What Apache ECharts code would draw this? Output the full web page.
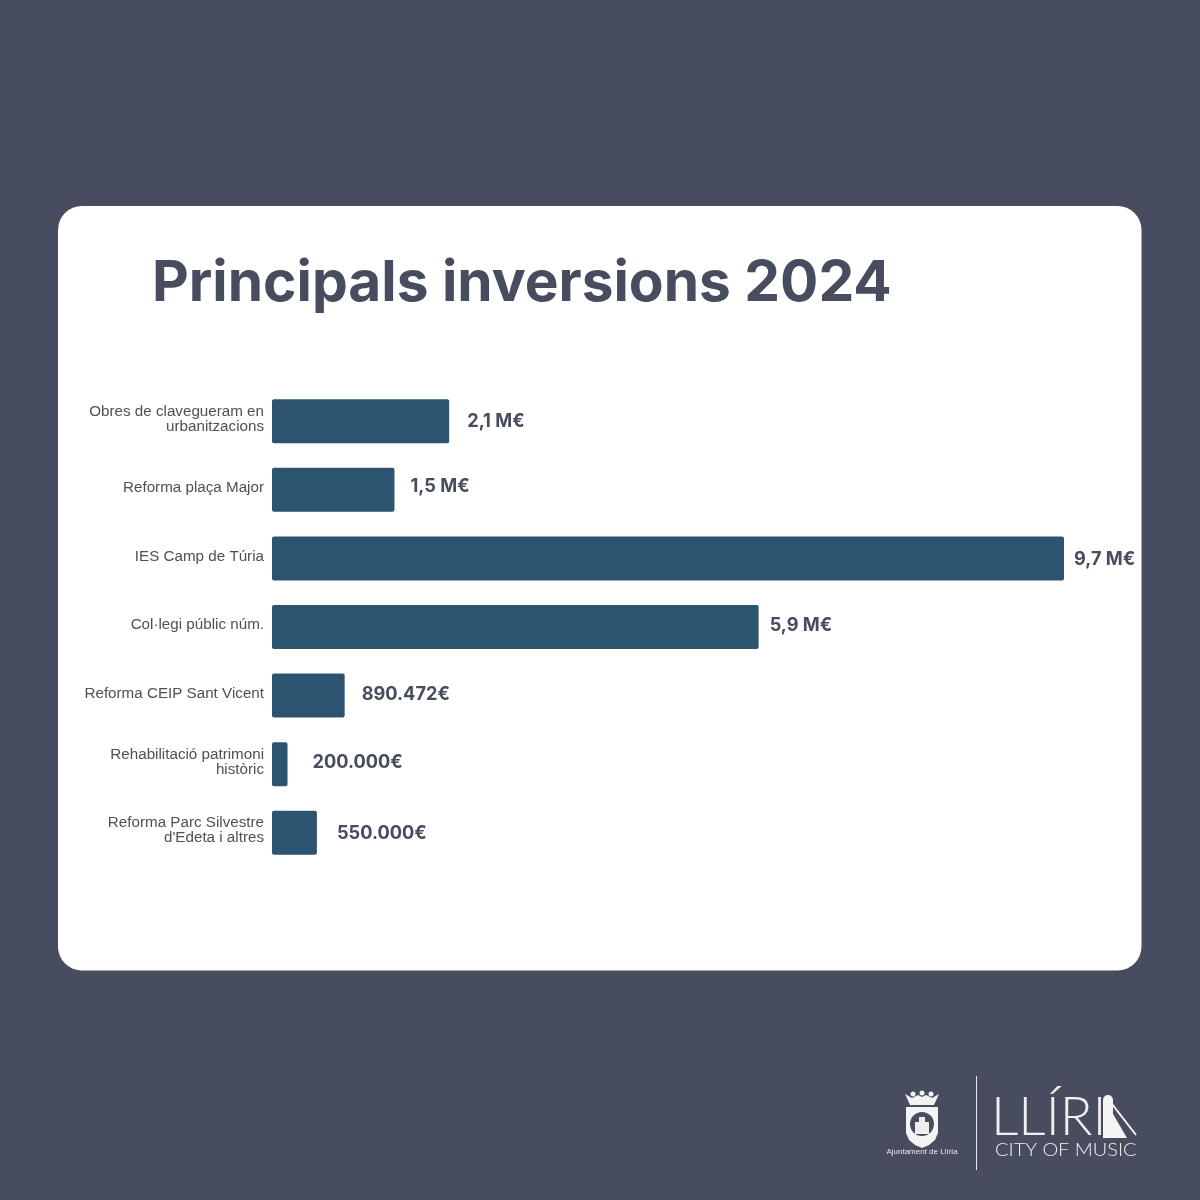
<!DOCTYPE html>
<html><head><meta charset="utf-8">
<style>html,body{margin:0;padding:0;background:#474d5e}#c{width:1200px;height:1200px}</style>
<script src="https://cdn.jsdelivr.net/npm/echarts@6/dist/echarts.min.js"></script>
</head><body><div id="c"></div>
<script>
const titleText = 'Principals inversions 2024';
const categories = ['Obres de clavegueram en\nurbanitzacions','Reforma plaça Major','IES Camp de Túria','Col·legi públic núm.','Reforma CEIP Sant Vicent','Rehabilitació patrimoni\nhistòric',"Reforma Parc Silvestre\nd'Edeta i altres"];
const values = [2.17, 1.5, 9.7, 5.96, 0.89, 0.19, 0.55];
const valueLabels = ['2,1 M€','1,5 M€','9,7 M€','5,9 M€','890.472€','200.000€','550.000€'];
const labelOffsets = [[18,0],[16,-3],[10,1],[11,-1],[17,-1],[25,-2],[20,1]];
const ink = '#474d5e', bar = '#2c5470';
const chart = echarts.init(document.getElementById('c'));
chart.setOption({
  animation:false,
  backgroundColor:ink,
  title:{text:titleText,left:147,top:250,textStyle:{fontFamily:'Inter',fontWeight:700,fontSize:56.8,color:ink}},
  grid:[{left:272,top:387,width:816.5,height:480},{left:272,top:385,width:816.5,height:480}],
  xAxis:[{type:'value',min:0,max:10,show:false,gridIndex:0},{type:'value',min:0,max:10,show:false,gridIndex:1}],
  yAxis:[
    {type:'category',gridIndex:0,inverse:true,data:categories,show:false},
    {type:'category',gridIndex:1,inverse:true,data:categories,axisLine:{show:false},axisTick:{show:false},
      axisLabel:{margin:8,fontFamily:'Liberation Sans',fontSize:15.2,lineHeight:15,color:'#505050',align:'right'}}
  ],
  series:[{type:'bar',xAxisIndex:0,yAxisIndex:0,barWidth:44,z:5,
    data:values.map((v,i)=>({value:v,label:{offset:labelOffsets[i]}})),
    itemStyle:{color:bar,borderRadius:2},
    label:{show:true,position:'right',distance:0,fontFamily:'Inter',fontWeight:700,fontSize:18.2,color:ink,
      formatter:p=>valueLabels[p.dataIndex]}}],
  graphic:{elements:[
    {type:'rect',z:-1,shape:{x:58,y:206,width:1083.5,height:764.5,r:24},style:{fill:'#fff'}},
    {type:'rect',shape:{x:976,y:1076,width:1,height:94},style:{fill:'#e8e9ec'}},
    {type:'polygon',shape:{points:[[905,1094],[912,1098],[918,1095],[922,1097],[926,1095],[932,1098],[939,1094],[934,1105],[910,1105]]},style:{fill:'#f2f2f2'}},
    {type:'circle',shape:{cx:913,cy:1094,r:2.5},style:{fill:'#f2f2f2'}},
    {type:'circle',shape:{cx:922,cy:1093,r:2.5},style:{fill:'#f2f2f2'}},
    {type:'circle',shape:{cx:931,cy:1094,r:2.5},style:{fill:'#f2f2f2'}},
    {type:'polygon',shape:{points:[[906,1107],[938,1107],[938,1133],[935,1140],[929,1145],[922,1148],[915,1145],[909,1140],[906,1133]]},style:{fill:'#f4f4f4'}},
    {type:'circle',shape:{cx:922,cy:1124,r:12},style:{fill:'#474d5e'}},
    {type:'polygon',shape:{points:[[915,1134],[915,1122],[919,1122],[919,1117],[925,1117],[925,1122],[929,1122],[929,1134]]},style:{fill:'#eeeeee'}},
    {type:'text',style:{x:922,y:1152,text:'Ajuntament de Llíria',align:'center',verticalAlign:'middle',font:'8px "Liberation Sans"',fill:'#e8e9ec'}},
    {type:'text',style:{x:991,y:1118,text:'LLÍRI',verticalAlign:'middle',font:'300 54px Lato',fill:'#f0f0f0'}},
    {type:'circle',shape:{cx:1108,cy:1100,r:5},style:{fill:'#f4f4f4'}},
    {type:'polygon',shape:{points:[[1103,1100],[1113,1100],[1113,1138],[1103,1138]]},style:{fill:'#f4f4f4'}},
    {type:'polygon',shape:{points:[[1113,1114],[1127,1138],[1113,1138]]},style:{fill:'#f4f4f4'}},
    {type:'polyline',shape:{points:[[1112,1104],[1136,1135]]},style:{stroke:'#f4f4f4',lineWidth:2,fill:null}},
    {type:'text',x:995,y:1151,scaleX:1.17,style:{x:0,y:0,text:'CITY OF MUSIC',verticalAlign:'middle',font:'300 17px Lato',fill:'#f0f0f0'}}
  ]}
});
</script></body></html>
